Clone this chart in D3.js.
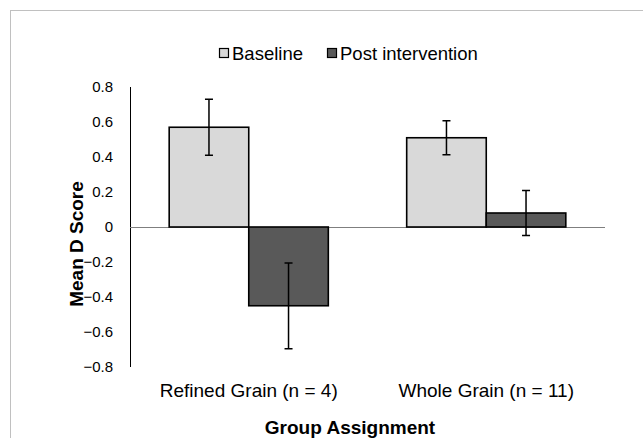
<!DOCTYPE html>
<html>
<head>
<meta charset="utf-8">
<script src="https://cdn.jsdelivr.net/npm/d3@7"></script>
<style>
  body { margin: 0; background: #fff; }
  text { font-family: "Liberation Sans", Arial, sans-serif; fill: #000; }
</style>
</head>
<body>
<svg id="chart"></svg>
<script>
const groups = ['Refined Grain (n = 4)', 'Whole Grain (n = 11)'];
const series = ['Baseline', 'Post intervention'];
const baselineValues = [0.57, 0.51];
const postValues = [-0.45, 0.08];
const baselineErr = [0.16, 0.097];
const postErr = [0.245, 0.128];
const yTicks = [-0.8, -0.6, -0.4, -0.2, 0, 0.2, 0.4, 0.6, 0.8];
const colors = ['#d9d9d9', '#595959'];

const width = 643;
const height = 438;

const svg = d3.select('#chart')
              .attr('width', width)
              .attr('height', height);

// outer frame
svg.append('rect')
   .attr('x', 10.5)
   .attr('y', 10.5)
   .attr('width', 700)
   .attr('height', 500)
   .attr('fill', 'none')
   .attr('stroke', '#c0c0c0');

const plotLeft = 130;
const plotRight = 605;
const plotTop = 87;
const plotBottom = 367;

const y = d3.scaleLinear()
            .domain([-0.8, 0.8])
            .range([plotBottom, plotTop]);

const x0 = d3.scaleBand()
             .domain(groups)
             .range([plotLeft, plotRight]);

const x1 = d3.scaleBand()
             .domain(series)
             .range([x0.bandwidth() * 0.165, x0.bandwidth() * 0.835]);

const rows = groups.map((g, i) => ({
  group: g,
  values: [
    {key: series[0], value: baselineValues[i], err: baselineErr[i]},
    {key: series[1], value: postValues[i], err: postErr[i]}
  ]
}));

// y axis (labels only + line)
const yAxis = d3.axisLeft(y)
                .tickValues(yTicks)
                .tickFormat(d => d === 0 ? '0' : d3.format('.1f')(d))
                .tickSize(0)
                .tickPadding(17);

const yg = svg.append('g')
              .attr('transform', `translate(${plotLeft}, 0)`)
              .call(yAxis);
yg.select('.domain').remove();
yg.selectAll('text')
  .style('font-size', '15px')
  .style('font-family', '"Liberation Sans", Arial, sans-serif')
  .attr('fill', '#000');

svg.append('line')
   .attr('x1', plotLeft + 0.5)
   .attr('x2', plotLeft + 0.5)
   .attr('y1', y(0.8))
   .attr('y2', y(-0.8))
   .attr('stroke', '#000')
   .attr('stroke-width', 1);

// zero line
svg.append('line')
   .attr('x1', plotLeft)
   .attr('x2', plotRight)
   .attr('y1', y(0) + 0.5)
   .attr('y2', y(0) + 0.5)
   .attr('stroke', '#7f7f7f')
   .attr('stroke-width', 1);

const groupSel = svg.selectAll('.group')
                    .data(rows)
                    .enter()
                    .append('g')
                    .attr('class', 'group')
                    .attr('transform', d => `translate(${x0(d.group)}, 0)`);

groupSel.selectAll('rect')
        .data(d => d.values)
        .enter()
        .append('rect')
        .attr('x', d => x1(d.key))
        .attr('y', d => y(Math.max(0, d.value)))
        .attr('width', x1.bandwidth())
        .attr('height', d => Math.abs(y(d.value) - y(0)))
        .attr('fill', (d, i) => colors[i])
        .attr('stroke', '#000')
        .attr('stroke-width', 1.6);

// error bars
const capW = 4;
groupSel.selectAll('.err')
        .data(d => d.values)
        .enter()
        .append('path')
        .attr('class', 'err')
        .attr('d', d => {
    const cx = x1(d.key) + x1.bandwidth() / 2;
    const top = y(d.value + d.err);
    const bot = y(d.value - d.err);
    return `M${cx},${top}V${bot}M${cx - capW},${top}H${cx + capW}M${cx - capW},${bot}H${cx + capW}`;
  })
        .attr('fill', 'none')
        .attr('stroke', '#000')
        .attr('stroke-width', 1.5);

// category labels
svg.selectAll('.cat')
   .data(groups)
   .enter()
   .append('text')
   .attr('class', 'cat')
   .attr('x', d => x0(d) + x0.bandwidth() / 2)
   .attr('y', 397)
   .attr('text-anchor', 'middle')
   .style('font-size', '19px')
   .text(d => d);

// axis titles
svg.append('text')
   .attr('x', 350)
   .attr('y', 434)
   .attr('text-anchor', 'middle')
   .style('font-size', '19px')
   .style('font-weight', 'bold')
   .text('Group Assignment');

svg.append('text')
   .attr('transform', `translate(83, 244) rotate(-90)`)
   .attr('text-anchor', 'middle')
   .style('font-size', '19px')
   .style('font-weight', 'bold')
   .text('Mean D Score');

// legend
const legendItems = [
  {label: series[0], color: colors[0], x: 219},
  {label: series[1], color: colors[1], x: 327}
];

const lg = svg.selectAll('.legend')
              .data(legendItems)
              .enter()
              .append('g')
              .attr('class', 'legend')
              .attr('transform', d => `translate(${d.x}, 0)`);

lg.append('rect')
  .attr('x', 0.5)
  .attr('y', 48.5)
  .attr('width', 9)
  .attr('height', 9)
  .attr('fill', d => d.color)
  .attr('stroke', '#000')
  .attr('stroke-width', 1.2);

lg.append('text')
  .attr('x', 13)
  .attr('y', 60)
  .style('font-size', '18.5px')
  .text(d => d.label);
</script>
</body>
</html>
